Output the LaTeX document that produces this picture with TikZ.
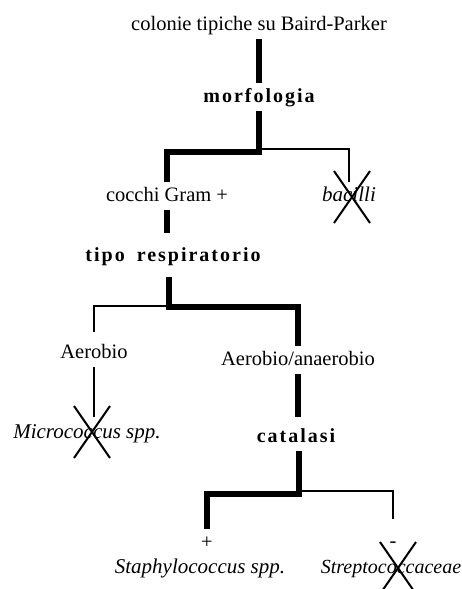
\documentclass[tikz,border=0pt]{standalone}
\usepackage{fontspec}
\setmainfont{Liberation Serif}
\usetikzlibrary{shapes.misc}
\tikzset{
  lbl/.style={inner sep=0pt, outer sep=5pt, text height=14pt, text depth=4pt, font=\fontsize{20.5}{24}\selectfont},
  key/.style={lbl, font=\fontsize{20}{24}\selectfont\bfseries\addfontfeatures{LetterSpace=10}},
  spec/.style={lbl, font=\fontsize{21}{24}\selectfont\itshape},
  heavy/.style={line width=6pt, line join=miter},
  light/.style={line width=1.5pt},
  nope/.style={cross out, draw, line width=2pt, inner sep=0pt, minimum width=34pt, minimum height=50pt},
}
\begin{document}
\begin{tikzpicture}[x=1pt, y=-1pt]
        \useasboundingbox (0,0) rectangle (462,589);
        \node[lbl] (colonie) at (259,25) {colonie tipiche su Baird-Parker};
        \node[key] (morf) at (259,97) {morfologia};
        \node[lbl] (cocchi) at (167,196) {cocchi Gram +};
        \node[spec] (bacilli) at (349,196) {bacilli};
        \node[key] (tipo) at (173,256) {tipo\hspace{12pt}respiratorio};
        \node[lbl] (aer) at (94,353) {Aerobio};
        \node[lbl] (anaer) at (298,360) {Aerobio/anaerobio};
        \node[spec] (micro) at (87,433) {Micrococcus spp.};
        \node[key] (cat) at (296,437) {catalasi};
        \node[lbl] (plus) at (207,543) {+};
        \node[lbl] (minus) at (393,542) {-};
        \node[spec] (staph) at (200,568) {Staphylococcus spp.};
        \node[spec, font=\fontsize{20}{24}\selectfont\itshape] (strep) at (391,568) {Streptococcaceae};

        \coordinate (m1) at (259,152);
        \coordinate (r1) at (169,307);
        \coordinate (c1) at (299,494);

        \draw[heavy] (colonie) -- (morf);
        \draw[heavy] (morf) -- (m1) -| (cocchi);
        \draw[light] ([yshift=3pt]m1) -| (bacilli);
        \draw[heavy, shorten >=9pt] (cocchi) -- (cocchi |- tipo.north);

        \draw[heavy, shorten <=7pt] (r1 |- tipo.south) -- (r1) -| (anaer);
        \draw[light, shorten >=7pt] ([yshift=1pt]r1) -| (aer);
        \draw[light, shorten >=2pt] (aer) -- (aer |- micro.north);
        \draw[heavy, shorten >=6pt] (anaer) -- (anaer |- cat.north);

        \draw[heavy] (c1 |- cat.south) -- (c1) -| (plus);
        \draw[light, shorten >=9pt] ([yshift=3pt]c1) -| (minus);

        \node[nope] (xbac) at (352,197) {};   % excluded branches
        \node[nope] (xmic) at (92,432) {};
        \node[nope] (xstr) at (398,568) {};
\end{tikzpicture}
\end{document}
